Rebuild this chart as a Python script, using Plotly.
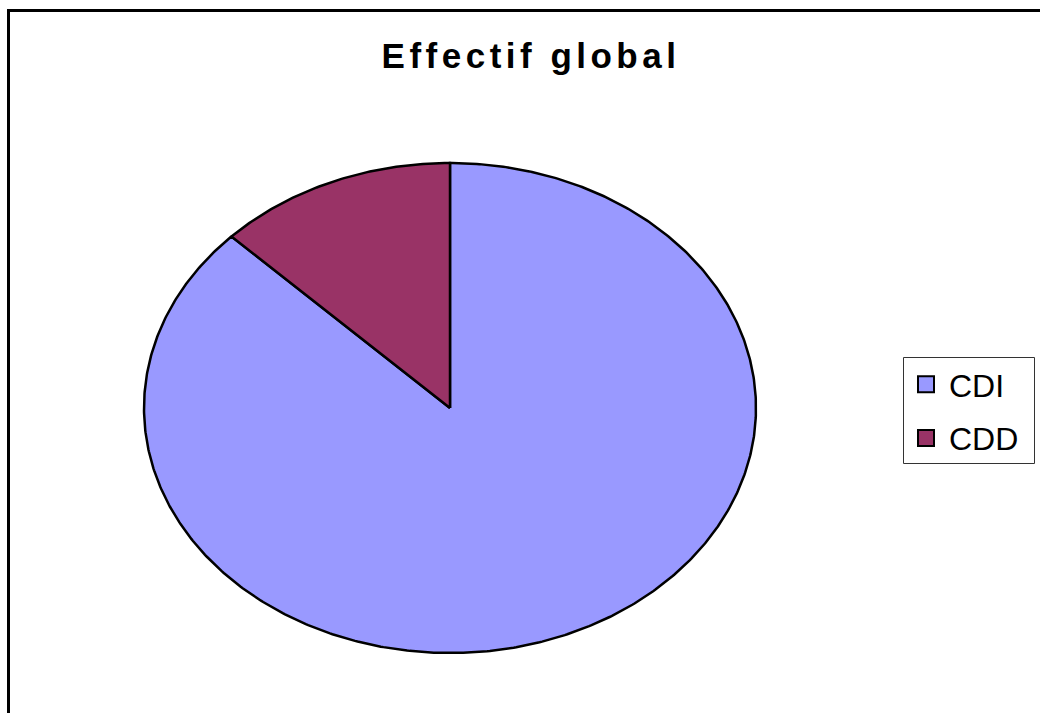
import numpy as np
import plotly.graph_objects as go

categories = ["CDI", "CDD"]
values = [138, 20]
colors = ["#9999FF", "#993366"]
title_text = "Effectif global"

W, H = 1040, 713
cx, cy, rx, ry = 450.0, 408.0, 306.0, 245.0

fig = go.Figure()

total = float(sum(values))
start = 90.0
for cat, val, col in zip(categories, values, colors):
    sweep = 360.0 * val / total
    n = max(int(sweep * 2), 4)
    ang = np.radians(np.linspace(start, start - sweep, n))
    xs = np.concatenate([[0.0], np.cos(ang), [0.0]])
    ys = np.concatenate([[0.0], np.sin(ang), [0.0]])
    fig.add_trace(go.Scatter(
        x=xs, y=ys, mode="lines", fill="toself", fillcolor=col,
        line=dict(color="black", width=2.5), showlegend=False,
        hoverinfo="text", text=f"{cat}: {val}",
    ))
    start -= sweep

for i, (cat, col) in enumerate(zip(categories, colors)):
    fig.add_trace(go.Scatter(
        x=[None], y=[None], mode="markers", name=cat,
        legendgroup=f"g{i}",
        marker=dict(symbol="square", size=16, color=col,
                    line=dict(color="black", width=2)),
    ))

fig.update_layout(
    width=W, height=H,
    margin=dict(l=0, r=0, t=0, b=0),
    paper_bgcolor="white", plot_bgcolor="white",
    xaxis=dict(range=[-cx / rx, (W - cx) / rx], visible=False, fixedrange=True),
    yaxis=dict(range=[-(H - cy) / ry, cy / ry], visible=False, fixedrange=True),
    title=dict(
        text='<span style="letter-spacing:4.5px"><b>' + title_text + '</b></span>',
        x=531 / W, y=1 - 56 / H, xanchor="center", yanchor="middle",
        font=dict(family="Liberation Sans, Arial", size=35, color="black"),
    ),
    legend=dict(
        x=903 / W, y=1 - 357 / H, xanchor="left", yanchor="top",
        bgcolor="rgba(0,0,0,0)", borderwidth=0,
        font=dict(family="Liberation Sans, Arial", size=32, color="black"),
        tracegroupgap=9, itemwidth=36,
    ),
    shapes=[
        dict(
            type="rect", xref="paper", yref="paper",
            x0=903.5 / W, x1=1034.5 / W, y0=1 - 463.5 / H, y1=1 - 357.5 / H,
            line=dict(color="#333333", width=1), fillcolor="white",
            layer="above",
        ),
        dict(
            type="rect", xref="paper", yref="paper",
            x0=8.5 / W, x1=1.02, y0=-0.02, y1=1 - 10.5 / H,
            line=dict(color="black", width=3), fillcolor="rgba(0,0,0,0)",
            layer="above",
        ),
    ],
    showlegend=True,
)

fig.write_html("out.html")
